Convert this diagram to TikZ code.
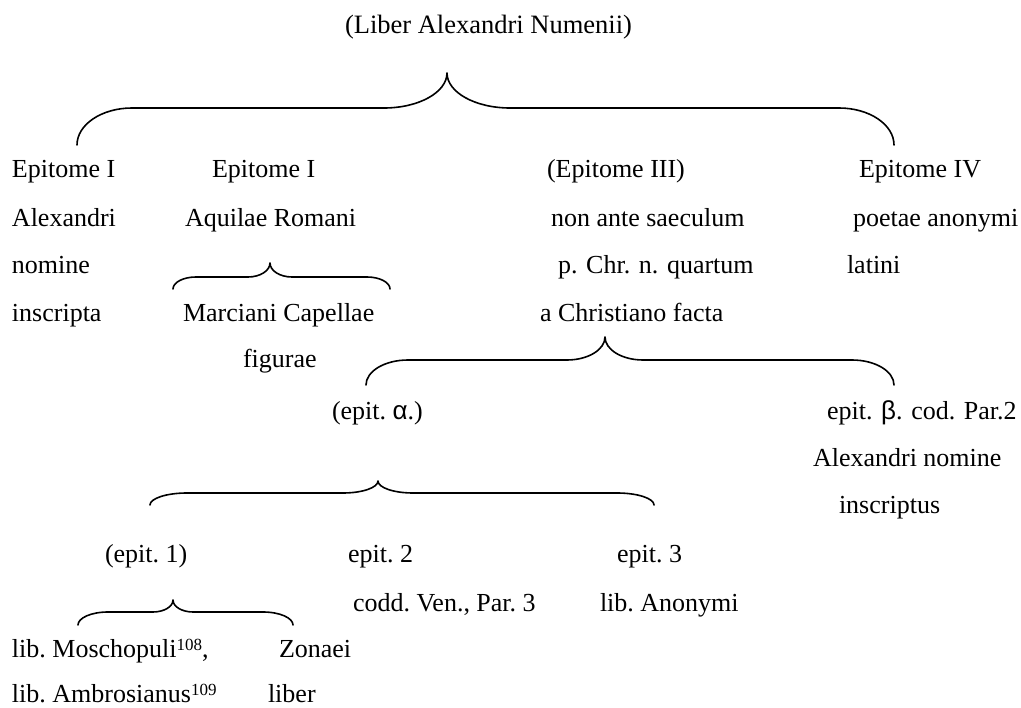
\documentclass[tikz,border=0pt]{standalone}
\usepackage{fontspec}
\setmainfont{Liberation Serif}
\newfontfamily\grkfont{Liberation Sans}
\frenchspacing
\newcommand\supnum[1]{{\fontsize{17}{17}\selectfont\raisebox{7pt}{#1}}}
\newcommand\curlybr[9]{%
  \coordinate (#1-l) at (#2,#4);
  \coordinate (#1-t) at (#6,#7);
  \coordinate (#1-r) at (#3,#4);
  \draw[bracestyle] (#1-l) .. controls (#2,{#5+0.448*(#4-#5)}) and ({#2+0.448*#8},#5) .. ({#2+#8},#5)
    -- ({#6-#9},#5) .. controls ({#6-0.448*#9},#5) and (#6,{#7+0.552*(#5-#7)}) .. (#1-t)
    .. controls (#6,{#7+0.552*(#5-#7)}) and ({#6+0.448*#9},#5) .. ({#6+#9},#5)
    -- ({#3-#8},#5) .. controls ({#3-0.448*#8},#5) and (#3,{#5+0.448*(#4-#5)}) .. (#1-r);
}
\begin{document}
\begin{tikzpicture}[x=1pt,y=-1pt,
  lbl/.style={anchor=base west, inner sep=0pt, outer sep=0pt, font=\fontsize{26}{30}\selectfont\frenchspacing},
  widelbl/.style={lbl, font=\fontsize{26}{30}\selectfont\nonfrenchspacing},
  bracestyle/.style={line width=1.6pt, line cap=round, line join=round}]
\useasboundingbox (0,0) rectangle (1021,708);

% title
\node[lbl, font=\fontsize{26.5}{30}\selectfont] (title) at (345,34) {(Liber Alexandri Numenii)};

% rows 1-5
\node[lbl] (e1a) at (12,178) {Epitome I};
\node[lbl] (e2a) at (212,178) {Epitome I};
\node[lbl] (e3a) at (547,178) {(Epitome III)};
\node[lbl] (e4a) at (859,178) {Epitome IV};

\node[lbl] (e1b) at (12,227) {Alexandri};
\node[lbl] (e2b) at (185,227) {Aquilae Romani};
\node[lbl] (e3b) at (551,227) {non ante saeculum};
\node[lbl] (e4b) at (853,227) {poetae anonymi};

\node[lbl] (e1c) at (12,274) {nomine};
\node[widelbl] (e3c) at (558,274) {p. Chr. n. quartum};
\node[lbl] (e4c) at (847,274) {latini};

\node[lbl] (e1d) at (12,322) {inscripta};
\node[lbl] (mc1) at (183,322) {Marciani Capellae};
\node[lbl] (e3d) at (540,322) {a Christiano facta};

\node[lbl] (mc2) at (243,368) {figurae};

% alpha / beta
\node[lbl] (alpha) at (332,420) {(epit. {\grkfont α}.)};
\node[widelbl] (beta1) at (827,420) {epit. {\grkfont β}. cod. Par.2};
\node[lbl] (beta2) at (813,467) {Alexandri nomine};
\node[lbl] (beta3) at (839,514) {inscriptus};

% epit 1-3
\node[lbl] (ep1) at (105,563) {(epit. 1)};
\node[lbl] (ep2) at (348,563) {epit. 2};
\node[lbl] (ep3) at (617,563) {epit. 3};
\node[lbl] (ep2b) at (353,611) {codd. Ven., Par. 3};
\node[lbl] (ep3b) at (600,611) {lib. Anonymi};

% bottom
\node[lbl] (m1) at (12,657) {lib. Moschopuli\supnum{108},};
\node[lbl] (z1) at (279,657) {Zonaei};
\node[lbl] (m2) at (12,702) {lib. Ambrosianus\supnum{109}};
\node[lbl] (z2) at (268,702) {liber};

% braces: name, x1, x2, y-end, y-horizontal, x-cusp, y-cusp, corner radius, cusp width
\curlybr{bA}{77}{894}{145}{108}{447}{73}{55}{63}
\curlybr{bB}{173}{390}{289}{277}{270}{263}{23}{22}
\curlybr{bC}{366}{894}{385}{360}{605}{337}{42}{38}
\curlybr{bD}{150}{654}{505}{493}{378}{481}{37}{35}
\curlybr{bE}{78}{293}{625}{612}{173}{600}{30}{20}
\end{tikzpicture}
\end{document}
